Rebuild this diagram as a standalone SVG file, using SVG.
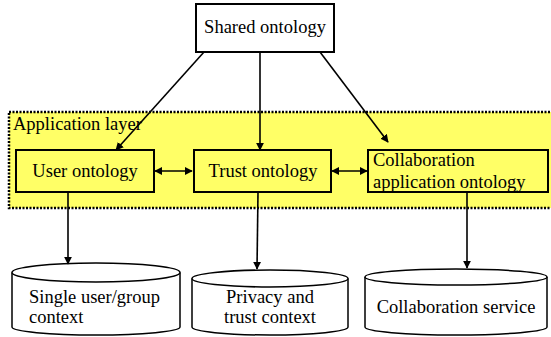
<svg xmlns="http://www.w3.org/2000/svg" width="551" height="337" viewBox="0 0 551 337" font-family="Liberation Serif, DejaVu Serif, serif" font-size="18.5">
  <style>
    .box { fill: none; stroke: #000; stroke-width: 2; }
    .cyl { fill: #fff; stroke: #000; stroke-width: 1.5; }
    .conn { fill: none; stroke: #000; stroke-width: 1.6; }
  </style>
  <defs>
    <marker id="arrow" viewBox="0 0 10 10" refX="9" refY="5" markerWidth="8" markerHeight="8" markerUnits="userSpaceOnUse" orient="auto-start-reverse">
      <path d="M0,0 L10,5 L0,10 Z" fill="#000"/>
    </marker>
  </defs>

  <!-- application layer band -->
  <g id="application-layer">
    <rect x="9" y="112" width="560" height="96" fill="#ffff66" stroke="#000" stroke-width="2.5" stroke-dasharray="2 1.5"/>
    <text x="13" y="130">Application layer</text>
  </g>

  <g id="shared-ontology">
    <rect x="196" y="4" width="138" height="48" fill="#fff" stroke="#000" stroke-width="2"/>
    <text x="265" y="33" text-anchor="middle">Shared ontology</text>
  </g>

  <g id="user-ontology">
    <rect class="box" x="16" y="150" width="138" height="42"/>
    <text x="85" y="177" text-anchor="middle">User ontology</text>
  </g>

  <g id="trust-ontology">
    <rect class="box" x="194" y="150" width="137" height="42"/>
    <text x="263" y="177" text-anchor="middle">Trust ontology</text>
  </g>

  <g id="collaboration-ontology">
    <rect class="box" x="368" y="150" width="180" height="42"/>
    <text x="373" y="166">Collaboration</text>
    <text x="373" y="188">application ontology</text>
  </g>

  <g id="single-user-context">
    <path class="cyl" d="M12,272.5 L12,327 A84,8 0 0 0 180,327 L180,272.5"/>
    <ellipse class="cyl" cx="96" cy="272.5" rx="84" ry="9.5"/>
    <text x="29" y="303">Single user/group</text>
    <text x="29" y="323">context</text>
  </g>

  <g id="privacy-trust-context">
    <path class="cyl" d="M192,278.5 L192,327 A78,8 0 0 0 348,327 L348,278.5"/>
    <ellipse class="cyl" cx="270" cy="278.5" rx="78" ry="8.5"/>
    <text x="270" y="303" text-anchor="middle">Privacy and</text>
    <text x="270" y="323" text-anchor="middle">trust context</text>
  </g>

  <g id="collaboration-service">
    <path class="cyl" d="M365,277 L365,327 A91,8 0 0 0 547,327 L547,277"/>
    <ellipse class="cyl" cx="456" cy="277" rx="91" ry="8"/>
    <text x="456" y="313" text-anchor="middle">Collaboration service</text>
  </g>

  <g id="connectors">
    <line class="conn" x1="204" y1="52" x2="116" y2="150" marker-end="url(#arrow)"/>
    <line class="conn" x1="260" y1="52" x2="260" y2="150" marker-end="url(#arrow)"/>
    <line class="conn" x1="320" y1="52" x2="388" y2="142" marker-end="url(#arrow)"/>
    <line class="conn" x1="155" y1="171" x2="192" y2="171" marker-start="url(#arrow)" marker-end="url(#arrow)"/>
    <line class="conn" x1="332" y1="171" x2="367" y2="171" marker-start="url(#arrow)" marker-end="url(#arrow)"/>
    <line class="conn" x1="68" y1="192" x2="68" y2="264" marker-end="url(#arrow)"/>
    <line class="conn" x1="258" y1="192" x2="257" y2="269" marker-end="url(#arrow)"/>
    <line class="conn" x1="467" y1="192" x2="467" y2="268" marker-end="url(#arrow)"/>
  </g>
</svg>
